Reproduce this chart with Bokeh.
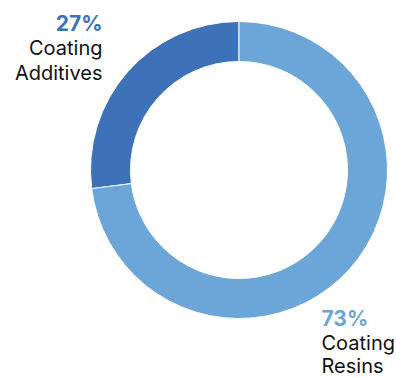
import math
from bokeh.plotting import figure
from bokeh.models import Range1d
from bokeh.core.properties import value
from bokeh.embed import file_html
from bokeh.resources import INLINE

labels = ["Coating Additives", "Coating Resins"]
shares = [27, 73]
colors = ["#3D72B8", "#6CA5D7"]

W, H = 396, 378
cx, cy = 238.5, H - 169.5
r_out, r_in = 148.5, 108.5

total = sum(shares)
starts, ends = [], []
a = math.pi / 2
for s in shares:
    starts.append(a)
    a += 2 * math.pi * s / total
    ends.append(a)

p = figure(width=W, height=H, output_backend="svg", toolbar_location=None,
           x_range=Range1d(0, W), y_range=Range1d(0, H), min_border=0)
p.axis.visible = False
p.grid.visible = False
p.outline_line_color = None
p.background_fill_color = "white"

p.annular_wedge(x=cx, y=cy, inner_radius=r_in, outer_radius=r_out,
                start_angle=starts, end_angle=ends, fill_color=colors,
                line_color="white", line_width=1)

font = value("Inter")
off = 6
# Additives label (right aligned, upper-left)
p.text(x=[102], y=[H - 29 + off], text=[f"{shares[0]}%"], text_font=font,
       text_font_size="21px", text_font_style="bold", text_color=colors[0],
       text_align="right", text_baseline="alphabetic")
p.text(x=[102, 102], y=[H - 53 + off, H - 78 + off], text=labels[0].split(" "), text_font=font,
       text_font_size="20px", text_color="#111111",
       text_align="right", text_baseline="alphabetic")
# Resins label (left aligned, lower-right)
boff = off + 4
p.text(x=[321], y=[H - 328 + boff], text=[f"{shares[1]}%"], text_font=font,
       text_font_size="21px", text_font_style="bold", text_color=colors[1],
       text_align="left", text_baseline="alphabetic")
p.text(x=[321, 321], y=[H - 352 + boff, H - 375 + boff], text=labels[1].split(" "), text_font=font,
       text_font_size="20px", text_color="#111111",
       text_align="left", text_baseline="alphabetic")

open("out.html", "w").write(file_html(p, INLINE))
